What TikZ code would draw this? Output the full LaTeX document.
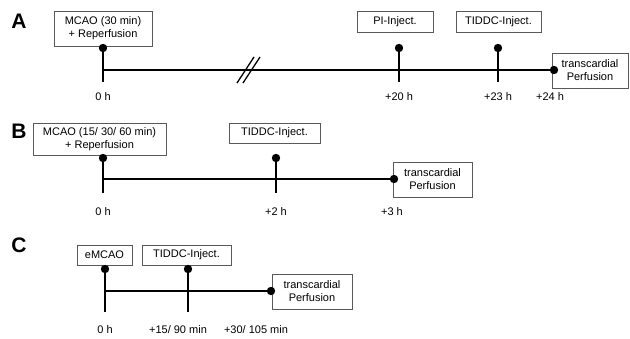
\documentclass[tikz,border=0pt]{standalone}
\usepackage{fontspec}
\setmainfont{Liberation Sans}
\begin{document}
\begin{tikzpicture}[x=1pt,y=-1pt,
  box/.style={draw=black!65, line width=0.9pt, inner sep=0pt, align=center,
    font=\fontsize{11}{13}\selectfont},
  tl/.style={font=\fontsize{11}{13}\selectfont, inner sep=0pt},
  panel/.style={font=\fontsize{21}{22}\selectfont\bfseries, inner sep=0pt},
  axis/.style={line width=1.8pt},
  dotc/.style={fill=black}]
\useasboundingbox (0,0) rectangle (630,339);

% ---------- Panel A ----------
\node[panel] (pA) at (19,21) {A};
\node[box, minimum width=98, minimum height=35] (a1) at (103,28.5) {MCAO (30 min)\\+ Reperfusion};
\node[box, minimum width=76, minimum height=21] (a2) at (395,21.5) {PI-Inject.};
\node[box, minimum width=85, minimum height=21] (a3) at (498.5,21.5) {TIDDC-Inject.};
\node[box, minimum width=76, minimum height=35] (a4) at (590,70.5) {transcardial\\Perfusion};
\coordinate (a1d) at (103,48); \coordinate (a1b) at (103,82); \coordinate (a1m) at (103,70);
\coordinate (a2d) at (399,48); \coordinate (a2b) at (399,82);
\coordinate (a3d) at (498,48); \coordinate (a3b) at (498,82);
\coordinate (a4d) at (554,70);
\draw[axis] (a1d) -- (a1b);
\draw[axis] (a2d) -- (a2b);
\draw[axis] (a3d) -- (a3b);
\draw[axis] (a1m) -- (a4d);
\coordinate (s1a) at (237,83); \coordinate (s1b) at (254,57);
\coordinate (s2a) at (243,83); \coordinate (s2b) at (260,57);
\draw[line width=1.3pt] (s1a) -- (s1b);
\draw[line width=1.3pt] (s2a) -- (s2b);
\foreach \p in {a1d,a2d,a3d,a4d} \fill[dotc] (\p) circle (4.2);
\node[tl] (at0) at (103,97) {0 h};
\node[tl] (at1) at (399,97) {+20 h};
\node[tl] (at2) at (498,97) {+23 h};
\node[tl] (at3) at (550,97) {+24 h};

% ---------- Panel B ----------
\node[panel] (pB) at (19,131) {B};
\node[box, minimum width=133, minimum height=32] (b1) at (99.5,139) {MCAO (15/ 30/ 60 min)\\+ Reperfusion};
\node[box, minimum width=91, minimum height=20] (b2) at (274.5,133) {TIDDC-Inject.};
\node[box, minimum width=79, minimum height=35] (b3) at (432.5,179.5) {transcardial\\Perfusion};
\coordinate (b1d) at (103,158); \coordinate (b1b) at (103,193); \coordinate (b1m) at (103,179);
\coordinate (b2d) at (276,158); \coordinate (b2b) at (276,193);
\coordinate (b3d) at (394,179);
\draw[axis] (b1d) -- (b1b);
\draw[axis] (b2d) -- (b2b);
\draw[axis] (b1m) -- (b3d);
\foreach \p in {b1d,b2d,b3d} \fill[dotc] (\p) circle (4.2);
\node[tl] (bt0) at (103,212) {0 h};
\node[tl] (bt1) at (276,212) {+2 h};
\node[tl] (bt2) at (392,212) {+3 h};

% ---------- Panel C ----------
\node[panel] (pC) at (19,245) {C};
\node[box, minimum width=55, minimum height=20] (c1) at (104.5,255) {eMCAO};
\node[box, minimum width=89, minimum height=20] (c2) at (186.5,255) {TIDDC-Inject.};
\node[box, minimum width=80, minimum height=35] (c3) at (312,291.5) {transcardial\\Perfusion};
\coordinate (c1d) at (105,269); \coordinate (c1b) at (105,312); \coordinate (c1m) at (105,291);
\coordinate (c2d) at (188,269); \coordinate (c2b) at (188,312);
\coordinate (c3d) at (271,291);
\draw[axis] (c1d) -- (c1b);
\draw[axis] (c2d) -- (c2b);
\draw[axis] (c1m) -- (c3d);
\foreach \p in {c1d,c2d,c3d} \fill[dotc] (\p) circle (4.2);
\node[tl] (ct0) at (105,330) {0 h};
\node[tl] (ct1) at (178,330) {+15/ 90 min};
\node[tl] (ct2) at (256,330) {+30/ 105 min};
\end{tikzpicture}
\end{document}
